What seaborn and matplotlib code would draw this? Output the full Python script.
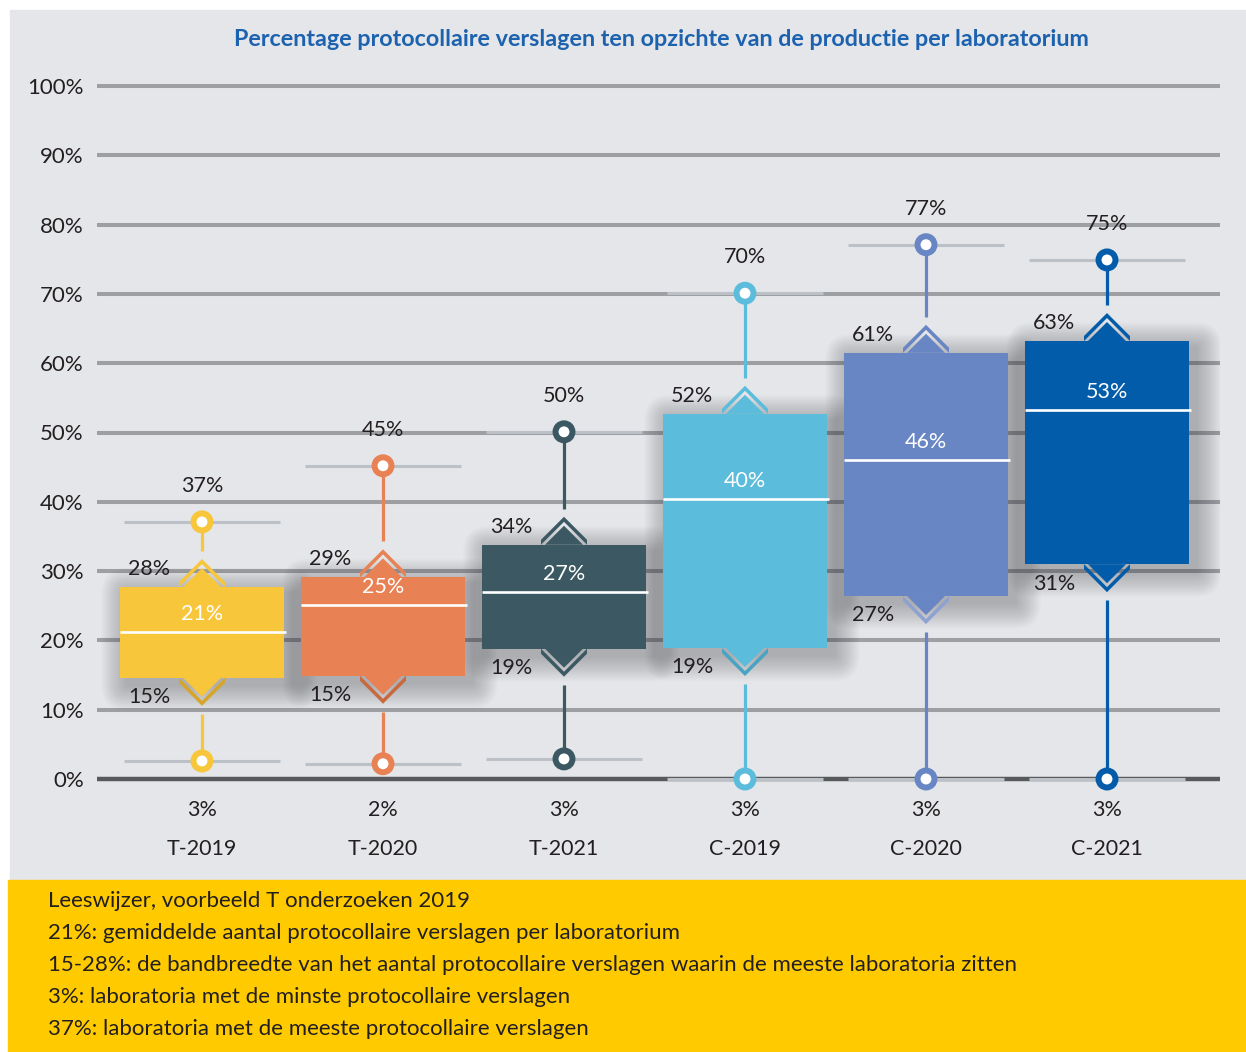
"""
Protocollaire verslagen per laboratorium: floating boxes with whiskers.
"""

import numpy as np
import pandas as pd
import matplotlib
matplotlib.use('Agg')
import matplotlib.pyplot as plt
import seaborn as sns
from matplotlib.patches import Polygon, Rectangle, FancyBboxPatch

sns.set_style('white')
plt.rcParams['font.family'] = ['Lato', 'DejaVu Sans']

# ── Data ──────────────────────────────────────────────────────────────────
categories = ['T-2019', 'T-2020', 'T-2021', 'C-2019', 'C-2020', 'C-2021']
q1_vals = [14.6, 14.9, 18.8, 18.9, 26.4, 31.0]
q3_vals = [27.7, 29.1, 33.8, 52.7, 61.5, 63.2]
mean_vals = [21.2, 25.1, 27.0, 40.4, 46.0, 53.2]
max_vals = [37.1, 45.2, 50.1, 70.1, 77.1, 74.9]
min_vals = [2.6, 2.2, 2.9, 0.0, 0.0, 0.0]

q1_labels = ['15%', '15%', '19%', '19%', '27%', '31%']
q3_labels = ['28%', '29%', '34%', '52%', '61%', '63%']
mean_labels = ['21%', '25%', '27%', '40%', '46%', '53%']
max_labels = ['37%', '45%', '50%', '70%', '77%', '75%']
min_labels = ['3%', '2%', '3%', '3%', '3%', '3%']

box_colors = ['#f7c63b', '#e88254', '#3c5963', '#5bbddb', '#6886c4', '#035ca9']
low_chev_colors = ['#d6a52a', '#c8693f', '#3c5963', '#4aa3c3', '#8ea2d2', '#035ca9']

title = "Percentage protocollaire verslagen ten opzichte van de productie per laboratorium"
notes = [
    "Leeswijzer, voorbeeld T onderzoeken 2019",
    "21%: gemiddelde aantal protocollaire verslagen per laboratorium",
    "15-28%: de bandbreedte van het aantal protocollaire verslagen waarin de meeste laboratoria zitten",
    "3%: laboratoria met de minste protocollaire verslagen",
    "37%: laboratoria met de meeste protocollaire verslagen",
]

TXT = '#231f20'
BG = '#e5e6e9'
YELLOW = '#ffcb00'
BLUE = '#1c62ae'

# ── Layout (pixels) ──────────────────────────────────────────────────────
W, H = 1246, 1052
PXX = 181.0           # px per category
PXY = 6.93            # px per percent
YLIM = (-3, 103)
X0_PX, X1_PX = 97, 1220
XLIM = (-(202 - X0_PX) / PXX, (X1_PX - 202) / PXX)
Y_TOP = 86 - (YLIM[1] - 100) * PXY
Y_BOT = 779 + (0 - YLIM[0]) * PXY

fig = plt.figure(figsize=(W / 100, H / 100), dpi=100)
fig.patch.set_facecolor('white')
fig.add_artist(Rectangle((10 / W, 1 - 880 / H), (W - 10) / W, 870 / H,
                         transform=fig.transFigure, color=BG, zorder=0))
fig.add_artist(Rectangle((8 / W, 0), (W - 8) / W, (H - 880) / H,
                         transform=fig.transFigure, color=YELLOW, zorder=0))

ax = fig.add_axes([X0_PX / W, 1 - Y_BOT / H, (X1_PX - X0_PX) / W, (Y_BOT - Y_TOP) / H])
ax.set_facecolor('none')

# Floating boxes: bars of height q3-q1, moved up to q1
df = pd.DataFrame({'category': categories,
                   'span': np.array(q3_vals) - np.array(q1_vals)})
sns.barplot(data=df, x='category', y='span', order=categories, color=box_colors[0],
            width=0.906, errorbar=None, linewidth=0, ax=ax, zorder=3)
for patch, c, b in zip(ax.patches, box_colors, q1_vals):
    patch.set_y(b)
    patch.set_facecolor(c)
    patch.set_edgecolor('none')

ax.set_xlim(*XLIM)
ax.set_ylim(*YLIM)

xs = np.arange(len(categories))
bw = 0.906

# Grid lines
for v in range(10, 101, 10):
    ax.axhline(v, color='#9d9fa3', lw=2.9, zorder=1)
ax.axhline(0, color='#58595b', lw=3.2, zorder=1)

# Soft shadows behind boxes (stacked rounded boxes)
for x, lo, hi in zip(xs, q1_vals, q3_vals):
    for k in range(1, 17):
        e = 1.6 * k
        ax.add_patch(FancyBboxPatch((x - bw / 2 + 7 / PXX, lo - 7 / PXY),
                                    bw, hi - lo,
                                    boxstyle=f"round,pad={e / PXX},rounding_size={e / PXX}",
                                    mutation_aspect=PXX / PXY,
                                    facecolor='#2b2f36', edgecolor='none', alpha=0.02, zorder=2))

# Light reference lines at min / max
ax.hlines(max_vals, xs - bw / 2 + 0.02, xs + bw / 2 - 0.02, color='#bcc1c7', lw=2.2, zorder=1.5)
ax.hlines(min_vals, xs - bw / 2 + 0.02, xs + bw / 2 - 0.02, color='#bcc1c7', lw=2.2, zorder=1.5)


def chevron(cx, y, up, body_color, band_color):
    s = 1 if up else -1
    def p(dx, dy):
        return (cx + dx / PXX, y + s * dy / PXY)
    ax.add_patch(Polygon([p(-19, 0), p(0, 19), p(19, 0)], closed=True,
                         facecolor=body_color, edgecolor='none', zorder=3))
    ax.add_patch(Polygon([p(-23, 5), p(0, 28), p(23, 5), p(23, 0), p(0, 23), p(-23, 0)],
                         closed=True, facecolor=band_color, edgecolor='none', zorder=3))


for x, lo, hi, c, cl in zip(xs, q1_vals, q3_vals, box_colors, low_chev_colors):
    chevron(x, hi, True, c, c)
    chevron(x, lo, False, c, cl)

# Whiskers and end circles
gap = 36 / PXY
ax.vlines(xs, np.array(q3_vals) + gap, max_vals, colors=box_colors, lw=2.3, zorder=4)
ax.vlines(xs, min_vals, np.array(q1_vals) - gap, colors=box_colors, lw=2.3, zorder=4)
ax.scatter(xs, max_vals, s=149, facecolors='white', edgecolors=box_colors,
           linewidths=4.3, zorder=6, clip_on=False)
ax.scatter(xs, min_vals, s=149, facecolors='white', edgecolors=box_colors,
           linewidths=4.3, zorder=6, clip_on=False)

# Mean lines
ax.hlines(mean_vals, xs - bw / 2, xs + bw / 2 + 0.01, color='white', lw=1.9, zorder=4)

# Labels
FS = 15.5
for x, i in zip(xs, range(len(categories))):
    ax.text(x, max_vals[i] + 5.2, max_labels[i], ha='center', va='center',
            fontsize=FS, color=TXT, zorder=7)
    ax.text(x - 53 / PXX, q3_vals[i] + 2.6, q3_labels[i], ha='center', va='center',
            fontsize=FS, color=TXT, zorder=7)
    ax.text(x - 53 / PXX, q1_vals[i] - 2.8, q1_labels[i], ha='center', va='center',
            fontsize=FS, color=TXT, zorder=7)
    ax.text(x, mean_vals[i] + 2.6, mean_labels[i], ha='center', va='center',
            fontsize=FS, color='white', zorder=7)
    ax.text(x, -31 / PXY, min_labels[i], ha='center', va='center',
            fontsize=FS, color=TXT)
    ax.text(x, -70 / PXY, categories[i], ha='center', va='center',
            fontsize=15.5, color=TXT)

# Axes styling
ax.set_yticks(range(0, 101, 10))
ax.set_yticklabels([f'{v}%' for v in range(0, 101, 10)])
ax.tick_params(axis='y', length=0, pad=9.5, labelsize=16, labelcolor=TXT)
ax.set_xticks([])
ax.set_xlabel('')
ax.set_ylabel('')
for sp in ax.spines.values():
    sp.set_visible(False)

fig.text(661 / W, 1 - 40 / H, title, ha='center', va='center', fontsize=16.8,
         fontweight='bold', color=BLUE)

for i, line in enumerate(notes):
    fig.text(48 / W, 1 - (901 + 32 * i) / H, line, ha='left', va='center',
             fontsize=16, color=TXT)

fig.savefig('out.png', dpi=100, facecolor='white')
